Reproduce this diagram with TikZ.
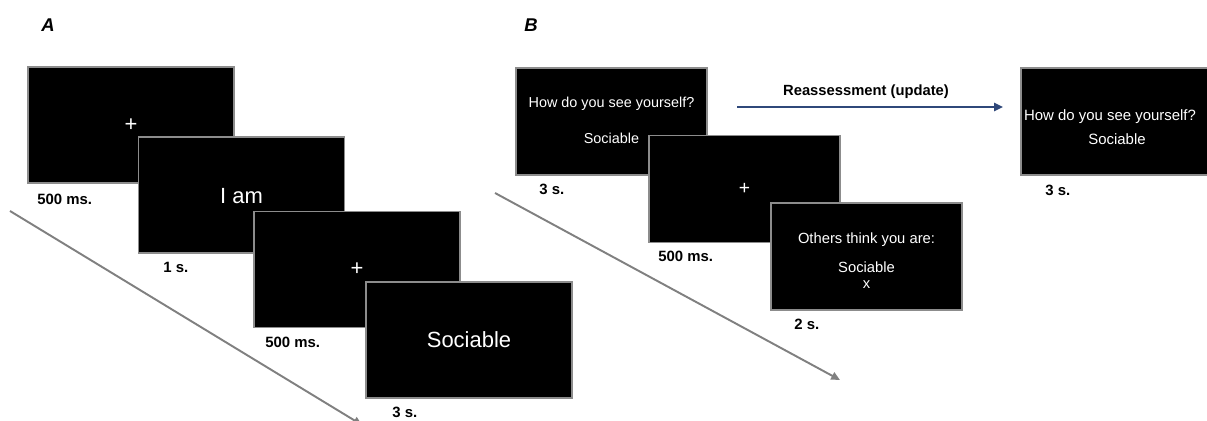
\documentclass[tikz,border=0pt]{standalone}
\usepackage{fontspec}
\setmainfont{Liberation Sans}
\usepackage{tikz}
\usetikzlibrary{arrows.meta}
\definecolor{framegray}{RGB}{140,140,140}
\definecolor{timegray}{RGB}{128,128,128}
\definecolor{updateblue}{RGB}{47,72,122}

\begin{document}
\begin{tikzpicture}[x=0.02cm, y=-0.02cm,
  screenA/.style={draw=framegray, fill=black, line width=0.8pt, minimum width=4.12cm, minimum height=2.32cm, inner sep=0pt},
  screenB/.style={draw=framegray, fill=black, line width=0.8pt, minimum width=3.82cm, minimum height=2.14cm, inner sep=0pt},
  word/.style={text=white, font=\fontsize{12.5}{15}\selectfont, inner sep=0pt},
  prompt/.style={text=white, font=\fontsize{8.2}{10}\selectfont, inner sep=0pt},
  dur/.style={font=\bfseries\fontsize{8.5}{10}\selectfont, anchor=west, inner sep=0pt},
  panel/.style={font=\bfseries\itshape\fontsize{10.5}{12}\selectfont, inner sep=0pt},
  timeline/.style={draw=timegray, line width=1.1pt, -{Triangle[length=5pt,width=4.5pt]}},
  update/.style={draw=updateblue, line width=1.3pt, -{Triangle[length=5pt,width=4.5pt]}}]
\clip (0,0) rectangle (1207,421);

\node[panel] (labA) at (48,25) {A};
\node[panel] (labB) at (531,25) {B};

\coordinate (ta0) at (10,211);
\coordinate (ta1) at (362,425);
\draw[timeline] (ta0) -- (ta1);
\coordinate (tb0) at (495,193);
\coordinate (tb1) at (840,380);
\draw[timeline] (tb0) -- (tb1);

\node[screenA] (a1) at (131,125) {};
\node[word] (a1t) at (131,125) {+};
\node[dur] (a1d) at (37,199) {500 ms.};
\node[screenA] (a2) at (241.5,195) {};
\node[word] (a2t) at (241.5,196) {I am};
\node[dur] (a2d) at (163,267) {1 s.};
\node[screenA] (a3) at (357,269.5) {};
\node[word] (a3t) at (357,269.5) {+};
\node[dur] (a3d) at (265,342) {500 ms.};
\node[screenA] (a4) at (469,340) {};
\node[word] (a4t) at (469,340) {Sociable};
\node[dur] (a4d) at (392,412) {3 s.};

\node[screenB] (b1) at (611.5,121.5) {};
\node[prompt] (b1q) at (611.5,104) {How do you see yourself?};
\node[prompt] (b1w) at (611.5,138) {Sociable};
\node[dur] (b1d) at (539,189) {3 s.};
\node[screenB] (b2) at (744.5,189) {};
\node[word, font=\fontsize{11}{13}\selectfont] (b2t) at (744.5,189) {+};
\node[dur] (b2d) at (658,256) {500 ms.};
\node[screenB] (b3) at (866.5,256.5) {};
\node[prompt, font=\fontsize{8.4}{10}\selectfont] (b3q) at (866.5,240) {Others think you are:};
\node[prompt, font=\fontsize{8.4}{10}\selectfont] (b3w) at (866.5,267) {Sociable};
\node[prompt, font=\fontsize{8.4}{10}\selectfont] (b3x) at (866.5,285) {x};
\node[dur] (b3d) at (794,324) {2 s.};

\coordinate (u0) at (737,107);
\coordinate (u1) at (1003,107);
\draw[update] (u0) -- (u1);
\node[font=\bfseries\fontsize{8.4}{10}\selectfont, inner sep=0pt] (upd) at (866,92) {Reassessment (update)};

\node[screenB] (b4) at (1116.5,121.5) {};
\node[prompt, font=\fontsize{8.5}{10}\selectfont] (b4q) at (1110,117) {How do you see yourself?};
\node[prompt, font=\fontsize{8.5}{10}\selectfont] (b4w) at (1117,139) {Sociable};
\node[dur] (b4d) at (1045,190) {3 s.};
\end{tikzpicture}
\end{document}
